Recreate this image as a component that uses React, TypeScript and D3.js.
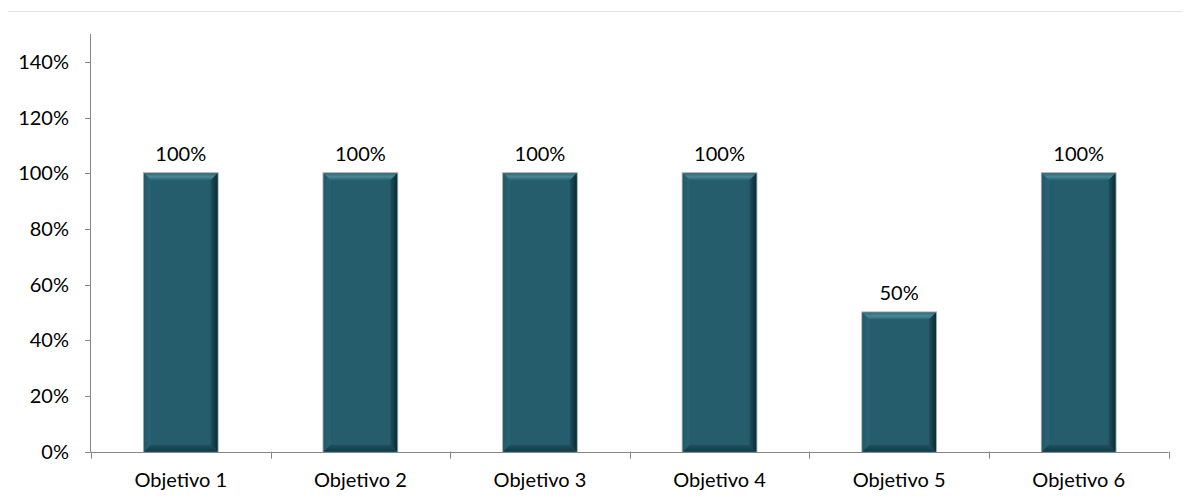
import React from "react";
import * as d3 from "d3";

const categories = ["Objetivo 1", "Objetivo 2", "Objetivo 3", "Objetivo 4", "Objetivo 5", "Objetivo 6"];
const values = [100, 100, 100, 100, 50, 100];
const yTicks = [0, 20, 40, 60, 80, 100, 120, 140];

const W = 1190;
const H = 499;
const FONT = "Lato, 'Open Sans', sans-serif";
const FS = 20;

export default function App() {
  const x = d3.scaleBand<string>().domain(categories).range([91, 1168.5]).paddingInner(0.59).paddingOuter(0.295);
  const y = d3.scaleLinear().domain([0, 150]).range([451.7, 34]);
  const bw = x.bandwidth();
  const bev = 7;
  const boundaries = d3.range(categories.length + 1).map((i) => 91 + (i * (1168.5 - 91)) / categories.length);

  return (
    <div style={{ margin: -8, width: W, height: H }}>
      <svg width={W} height={H} style={{ display: "block", fontFamily: FONT }}>
        <defs>
          <linearGradient id="topBev" x1="0" y1="0" x2="0" y2="1">
            <stop offset="0" stopColor="#2f6b79" />
            <stop offset="0.5" stopColor="#4a8795" />
            <stop offset="1" stopColor="#2a6170" />
          </linearGradient>
          <linearGradient id="rightBev" x1="0" y1="0" x2="1" y2="0">
            <stop offset="0" stopColor="#1f5160" />
            <stop offset="1" stopColor="#0b2a32" />
          </linearGradient>
          <linearGradient id="leftBev" x1="0" y1="0" x2="1" y2="0">
            <stop offset="0" stopColor="#22596a" />
            <stop offset="1" stopColor="#2a6473" />
          </linearGradient>
          <linearGradient id="botBev" x1="0" y1="0" x2="0" y2="1">
            <stop offset="0" stopColor="#1f5160" />
            <stop offset="1" stopColor="#123a45" />
          </linearGradient>
        </defs>
        <rect x={0} y={0} width={W} height={H} fill="#fff" />
        <line x1={7.5} y1={11.5} x2={W} y2={11.5} stroke="#e3e3e3" />
        <line x1={7.5} y1={11.5} x2={7.5} y2={H} stroke="#e3e3e3" />

        {categories.map((c, i) => {
          const x0 = x(c)!;
          const x1 = x0 + bw;
          const y0 = y(values[i]);
          const y1 = y(0);
          return (
            <g key={c}>
              <rect x={x0 - 0.5} y={y0 - 0.5} width={bw + 1} height={y1 - y0 + 0.5} fill="none" stroke="#9aa8ab" strokeWidth={1} />
              <rect x={x0} y={y0} width={bw} height={y1 - y0} fill="#265d6c" />
              <polygon points={`${x0},${y0} ${x1},${y0} ${x1 - bev},${y0 + bev} ${x0 + bev},${y0 + bev}`} fill="url(#topBev)" />
              <polygon points={`${x1},${y0} ${x1},${y1} ${x1 - bev},${y1 - bev} ${x1 - bev},${y0 + bev}`} fill="url(#rightBev)" />
              <polygon points={`${x0},${y0} ${x0 + bev},${y0 + bev} ${x0 + bev},${y1 - bev} ${x0},${y1}`} fill="url(#leftBev)" />
              <polygon points={`${x0},${y1} ${x0 + bev},${y1 - bev} ${x1 - bev},${y1 - bev} ${x1},${y1}`} fill="url(#botBev)" />
              <text x={x0 + bw / 2} y={y0 - 12.5} textAnchor="middle" fontSize={FS} fill="#000">
                {values[i]}%
              </text>
            </g>
          );
        })}

        <line x1={90.5} y1={34} x2={90.5} y2={y(0)} stroke="#868686" />
        {yTicks.map((t) => (
          <g key={t}>
            <line x1={85} y1={Math.round(y(t)) + 0.5} x2={91} y2={Math.round(y(t)) + 0.5} stroke="#868686" />
            <text x={69} y={y(t)} dy="0.35em" textAnchor="end" fontSize={FS} fill="#000">
              {t}%
            </text>
          </g>
        ))}

        <line x1={85} y1={Math.round(y(0)) + 0.5} x2={1168.5} y2={Math.round(y(0)) + 0.5} stroke="#868686" />
        {boundaries.map((b, i) => (
          <line key={i} x1={Math.round(b) + 0.5} y1={y(0)} x2={Math.round(b) + 0.5} y2={y(0) + 7} stroke="#868686" />
        ))}
        {categories.map((c) => (
          <text key={c} x={x(c)! + bw / 2} y={487} textAnchor="middle" fontSize={FS} fill="#000">
            {c}
          </text>
        ))}
      </svg>
    </div>
  );
}
